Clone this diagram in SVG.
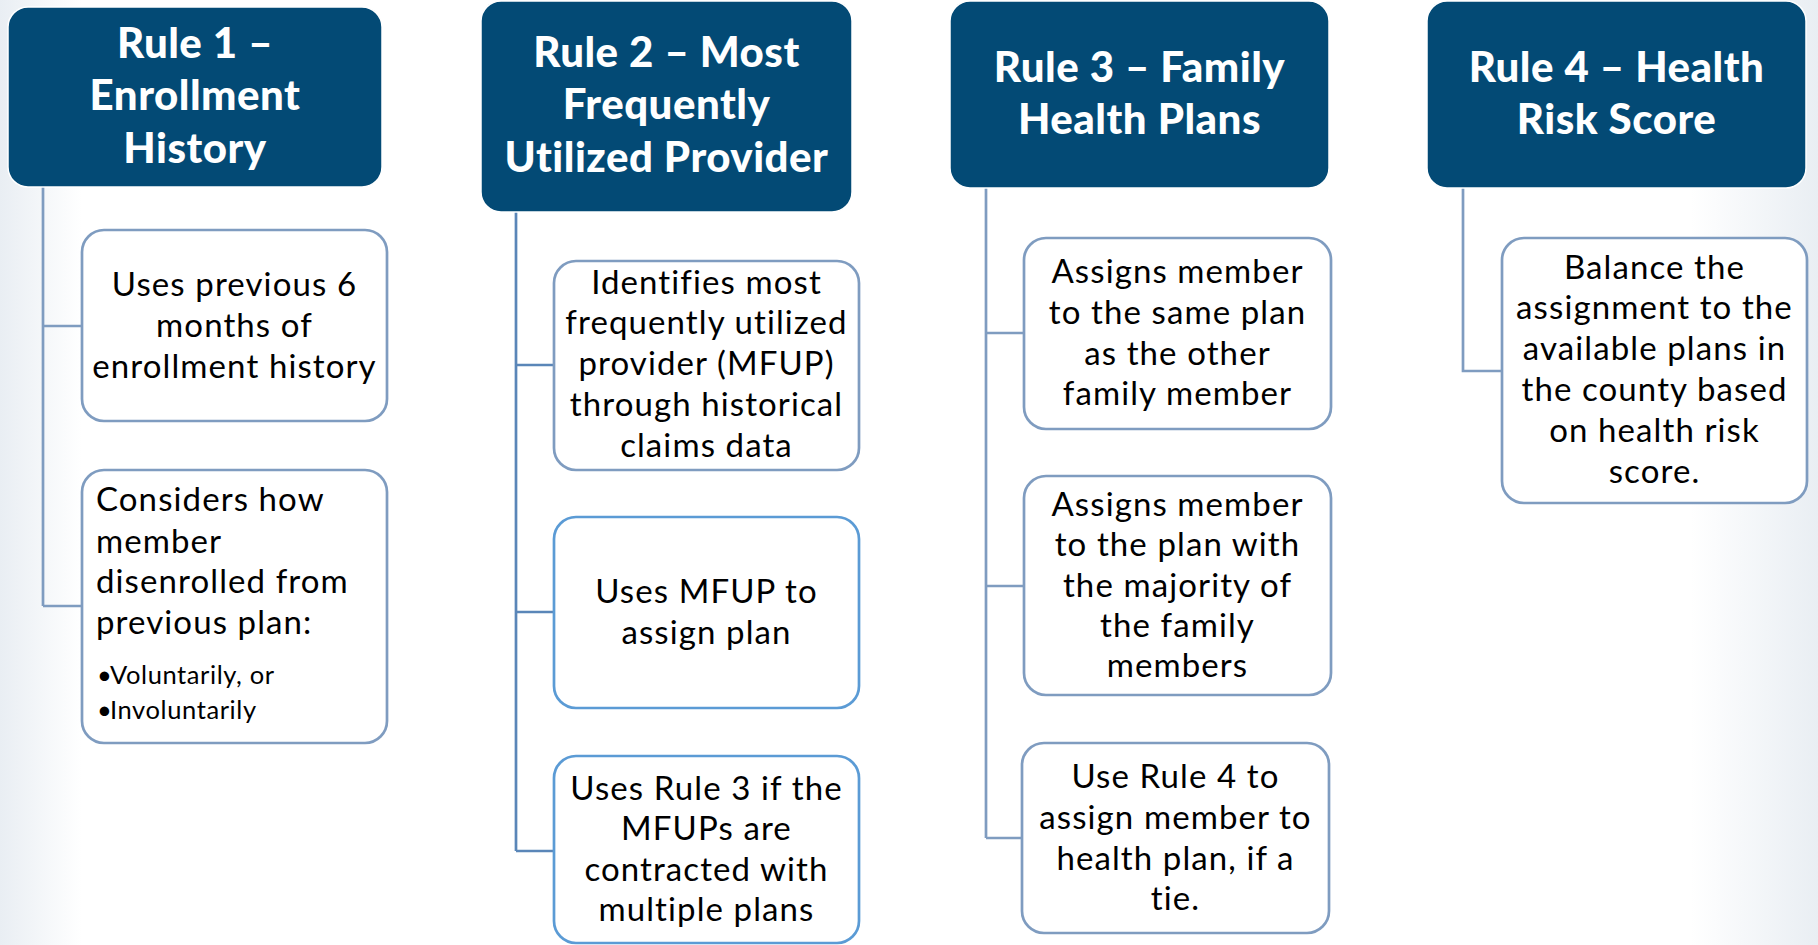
<svg xmlns="http://www.w3.org/2000/svg" width="1818" height="945" viewBox="0 0 1818 945">
<defs>
<linearGradient id="bg" x1="0" y1="0" x2="1" y2="0">
<stop offset="0" stop-color="#e9eef3"/>
<stop offset="0.045" stop-color="#ffffff"/>
<stop offset="0.93" stop-color="#ffffff"/>
<stop offset="1" stop-color="#e9eef3"/>
</linearGradient>
<style>
.hdr{fill:#034a75;stroke:#ffffff;stroke-width:1.5}
.ht{font-family:Lato,"Open Sans",sans-serif;font-weight:900;font-size:42px;letter-spacing:0.5px;fill:#ffffff;text-anchor:middle}
.box{fill:#ffffff;stroke:#7f9cc0;stroke-width:2.7}
.boxb{fill:#ffffff;stroke:#5b9bd5;stroke-width:2.7}
.bt{font-family:Lato,"Open Sans",sans-serif;font-size:33px;letter-spacing:1.1px;fill:#000000;text-anchor:middle}
.lt{font-family:Lato,"Open Sans",sans-serif;font-size:33px;letter-spacing:1.1px;fill:#000000}
.st{font-size:25.5px;letter-spacing:0.6px}
.con{fill:none;stroke:#7f9cc0;stroke-width:2.7}
.con2{fill:none;stroke:#5a86b8;stroke-width:2.7}
</style>
</defs>
<rect x="0" y="0" width="1818" height="945" fill="url(#bg)"/>
<g id="connectors">
<path class="con" d="M43 187 V606 M43 326 H82 M43 606 H82"/>
<path class="con2" d="M516 212 V851 M516 365 H554 M516 612 H554 M516 851 H554"/>
<path class="con" d="M986 188 V838 M986 333 H1024 M986 586 H1024 M986 838 H1022"/>
<path class="con" d="M1463 188 V371 H1502"/>
</g>
<g id="rule1">
<rect class="hdr" x="8" y="7" width="374" height="180" rx="20"/>
<text class="ht"><tspan x="195" y="58">Rule 1 –</tspan><tspan x="195" y="110">Enrollment</tspan><tspan x="195" y="163">History</tspan></text>
</g>
<g id="rule1-a">
<rect class="box" x="82" y="230" width="305" height="191" rx="22"/>
<text class="bt"><tspan x="234.5" y="296">Uses previous 6</tspan><tspan x="234.5" y="337">months of</tspan><tspan x="234.5" y="378">enrollment history</tspan></text>
</g>
<g id="rule1-b">
<rect class="box" x="82" y="470" width="305" height="273" rx="22"/>
<text class="lt"><tspan x="96" y="511">Considers how</tspan><tspan x="96" y="553">member</tspan><tspan x="96" y="593">disenrolled from</tspan><tspan x="96" y="634">previous plan:</tspan><tspan class="st" x="97" y="684">•</tspan><tspan class="st" x="110" y="684">Voluntarily, or</tspan><tspan class="st" x="97" y="719">•</tspan><tspan class="st" x="110" y="719">Involuntarily</tspan></text>
</g>
<g id="rule2">
<rect class="hdr" x="481" y="1" width="371" height="211" rx="20"/>
<text class="ht"><tspan x="666.5" y="67">Rule 2 – Most</tspan><tspan x="666.5" y="119">Frequently</tspan><tspan x="666.5" y="172">Utilized Provider</tspan></text>
</g>
<g id="rule2-a">
<rect class="box" x="554" y="261" width="305" height="209" rx="22"/>
<text class="bt"><tspan x="706.5" y="294">Identifies most</tspan><tspan x="706.5" y="334">frequently utilized</tspan><tspan x="706.5" y="375">provider (MFUP)</tspan><tspan x="706.5" y="416">through historical</tspan><tspan x="706.5" y="457">claims data</tspan></text>
</g>
<g id="rule2-b">
<rect class="boxb" x="554" y="517" width="305" height="191" rx="22"/>
<text class="bt"><tspan x="706.5" y="603">Uses MFUP to</tspan><tspan x="706.5" y="644">assign plan</tspan></text>
</g>
<g id="rule2-c">
<rect class="boxb" x="554" y="756" width="305" height="187" rx="22"/>
<text class="bt"><tspan x="706.5" y="800">Uses Rule 3 if the</tspan><tspan x="706.5" y="840">MFUPs are</tspan><tspan x="706.5" y="881">contracted with</tspan><tspan x="706.5" y="921">multiple plans</tspan></text>
</g>
<g id="rule3">
<rect class="hdr" x="950" y="1" width="379" height="187" rx="20"/>
<text class="ht"><tspan x="1139.5" y="82">Rule 3 – Family</tspan><tspan x="1139.5" y="134">Health Plans</tspan></text>
</g>
<g id="rule3-a">
<rect class="box" x="1024" y="238" width="307" height="191" rx="22"/>
<text class="bt"><tspan x="1177.5" y="283">Assigns member</tspan><tspan x="1177.5" y="324">to the same plan</tspan><tspan x="1177.5" y="365">as the other</tspan><tspan x="1177.5" y="405">family member</tspan></text>
</g>
<g id="rule3-b">
<rect class="box" x="1024" y="476" width="307" height="219" rx="22"/>
<text class="bt"><tspan x="1177.5" y="516">Assigns member</tspan><tspan x="1177.5" y="556">to the plan with</tspan><tspan x="1177.5" y="597">the majority of</tspan><tspan x="1177.5" y="637">the family</tspan><tspan x="1177.5" y="677">members</tspan></text>
</g>
<g id="rule3-c">
<rect class="box" x="1022" y="743" width="307" height="190" rx="22"/>
<text class="bt"><tspan x="1175.5" y="788">Use Rule 4 to</tspan><tspan x="1175.5" y="829">assign member to</tspan><tspan x="1175.5" y="870">health plan, if a</tspan><tspan x="1175.5" y="910">tie.</tspan></text>
</g>
<g id="rule4">
<rect class="hdr" x="1427" y="1" width="379" height="187" rx="20"/>
<text class="ht"><tspan x="1616.5" y="82">Rule 4 – Health</tspan><tspan x="1616.5" y="134">Risk Score</tspan></text>
</g>
<g id="rule4-a">
<rect class="box" x="1502" y="238" width="305" height="265" rx="22"/>
<text class="bt"><tspan x="1654.5" y="279">Balance the</tspan><tspan x="1654.5" y="319">assignment to the</tspan><tspan x="1654.5" y="360">available plans in</tspan><tspan x="1654.5" y="401">the county based</tspan><tspan x="1654.5" y="442">on health risk</tspan><tspan x="1654.5" y="483">score.</tspan></text>
</g>
</svg>
